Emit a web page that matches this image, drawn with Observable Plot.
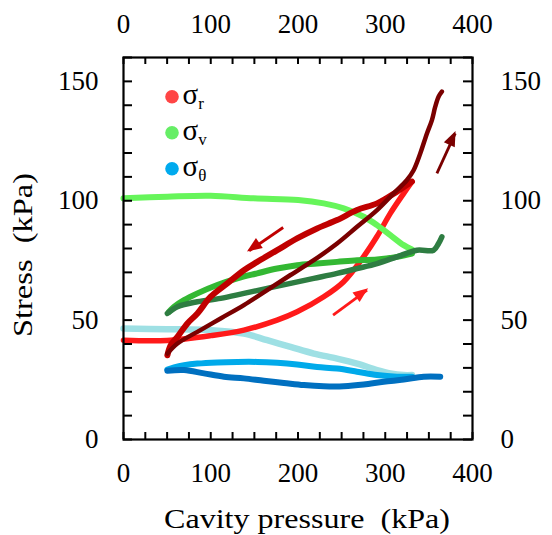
<!DOCTYPE html>
<html>
<head>
<meta charset="utf-8">
<script src="https://cdn.jsdelivr.net/npm/d3@7"></script>
<script src="https://cdn.jsdelivr.net/npm/@observablehq/plot@0.6"></script>
<style>
  html, body { margin: 0; padding: 0; background: #fff; }
  #chart { position: relative; width: 552px; height: 535px; }
</style>
</head>
<body>
<div id="chart"></div>
<script>
// ---- tick values ----
const xLabelTicks = [0, 100, 200, 300, 400];
const xMinorTicks = d3.range(0, 401, 25);
const yLabelTicks = [0, 50, 100, 150];
const yMinorTicks = d3.range(0, 161, 10);

// ---- series: [cavity pressure (kPa), stress (kPa)] ----
const srLoad = [[0,41.6],[50,41.5],[100,43.5],[138,45.8],[176,50],[199,53.5],[229.5,59.8],[252,66],[275,76.5],[290.5,85],[305.8,94.7],[321,103],[330.6,108]];
const srUnload = [[330.6,108],[313.4,103.8],[290.6,98.9],[267.7,96.1],[244.8,91.9],[221.9,88.4],[199,84.2],[176.2,79.3],[153.3,74.4],[138,70.9],[119,65.4],[99.9,59.8],[84.7,52.8],[73.2,48.6],[61.8,43],[54.1,39.5],[50.3,35.3]];
const srReload = [[50.3,36],[61.8,40.2],[84.7,45.1],[111.3,50.7],[138,56.3],[164.7,62.6],[191.4,68.9],[218.1,75.1],[244.8,82.1],[267.7,89.1],[290.6,96.1],[309.6,103.1],[324.9,108.7],[332.5,112.8],[340.1,119.8],[347.8,128.2],[353.5,133.8],[357.3,139.4],[361.1,143.6],[364.9,145.7]];
const svLoad = [[0,101],[50.3,101.7],[99.9,102.1],[149.5,101],[200.2,100.3],[229.5,98.9],[252.4,96.8],[275.3,93.3],[290.6,89.8],[305.8,85.6],[321.1,81.4],[330.6,79.6]];
const svUnload = [[330.6,77.9],[313.4,76.5],[290.6,75.4],[267.7,75.1],[244.8,74.4],[221.9,73.7],[199,73],[176.2,71.6],[153.3,69.6],[130.4,67.5],[107.5,64.7],[84.7,61.2],[69.4,58.4],[58,55.6],[52.2,53.5]];
const svReload = [[50.3,52.8],[61.8,55.6],[84.7,57.7],[111.3,59.1],[138,61.2],[164.7,63.3],[191.4,65.4],[218.1,67.5],[244.8,69.6],[267.7,71.6],[290.6,73.7],[313.4,76.5],[336.3,79.3],[355.4,79.3],[361.1,82.1],[364.9,84.9]];
const stLoad = [[0,46.5],[50.3,46.2],[99.9,45.8],[138,44.4],[164.7,41.6],[191.4,38.8],[218.1,36],[244.8,33.9],[267.7,31.8],[290.6,29.1],[305.8,27.7],[321.1,27],[330.6,27]];
const stUnload = [[330.6,26.3],[313.4,26.3],[290.6,27],[267.7,28.4],[244.8,29.7],[221.9,30.4],[199,31.4],[176.2,32.1],[153.3,32.5],[130.4,32.5],[107.5,32.3],[84.7,31.8],[69.4,31.1],[58,30.2],[50.3,29.3]];
const stReload = [[50.3,28.8],[69.4,29.1],[92.3,27.7],[115.2,26.3],[138,25.6],[160.9,24.6],[183.8,23.7],[206.7,22.8],[229.5,22.3],[252.4,22.3],[275.3,23],[298.2,24.2],[321.1,25.1],[344,26.3],[363,26.3]];

// ---- direction arrows: [x1, y1, x2, y2] in data units ----
const arrowUnload = [183, 88.8, 144, 79];
const arrowLoad = [240.2, 52.1, 279.1, 62.6];
const arrowReload = [359.2, 111.5, 380.2, 128.2];

// ---- legend ----
const legendSymbols = ["σ", "σ", "σ"];
const legendSubs = ["r", "v", "θ"];
const legendColors = ["#ff4545", "#66ee66", "#00aaee"];

// ---- styles ----
const series = [
  {pts: stLoad,   color: "#9ee0e4", w: 6.5},
  {pts: stUnload, color: "#00aaea", w: 6},
  {pts: stReload, color: "#0070c0", w: 6},
  {pts: srLoad,   color: "#ff1a1a", w: 5.5},
  {pts: svLoad,   color: "#66f55a", w: 6},
  {pts: svUnload, color: "#33b833", w: 6},
  {pts: svReload, color: "#2e7d42", w: 5.5},
  {pts: srUnload, color: "#c00000", w: 6},
  {pts: srReload, color: "#7a0000", w: 4.5}
];
const arrows = [
  {a: arrowUnload, color: "#c00000"},
  {a: arrowLoad, color: "#ff1a1a"},
  {a: arrowReload, color: "#7a0000"}
];

const FONT = "Liberation Serif";
const numFont = 27;
const W = 552, H = 535, ML = 123, MR = 80, MT = 57, MB = 96;
const innerW = W - ML - MR, innerH = H - MT - MB;

const marks = [];
for (const s of series) {
  marks.push(Plot.line(s.pts, {x: d => d[0], y: d => d[1], stroke: s.color, strokeWidth: s.w, curve: "catmull-rom", strokeLinecap: "round", strokeLinejoin: "round"}));
}
// arrow shafts
for (const ar of arrows) {
  marks.push(Plot.link([ar.a], {x1: d => d[0], y1: d => d[1], x2: d => d[2], y2: d => d[3], stroke: ar.color, strokeWidth: 2.8}));
}
// axes: labels
marks.push(Plot.axisX(xLabelTicks, {anchor: "bottom", tickSize: 0, tickPadding: 23, label: null, fontSize: numFont}));
marks.push(Plot.axisX(xLabelTicks, {anchor: "top", tickSize: 0, tickPadding: 25, label: null, fontSize: numFont}));
marks.push(Plot.axisY(yLabelTicks, {anchor: "left", tickSize: 0, tickPadding: 25, label: null, fontSize: numFont}));
marks.push(Plot.axisY(yLabelTicks, {anchor: "right", tickSize: 0, tickPadding: 28, label: null, fontSize: numFont}));
// inward ticks on all four sides
marks.push(Plot.tickX(xMinorTicks, {x: d => d, insetTop: innerH - 7, stroke: "#000", strokeWidth: 2}));
marks.push(Plot.tickX(xMinorTicks, {x: d => d, insetBottom: innerH - 7, stroke: "#000", strokeWidth: 2}));
marks.push(Plot.tickY(yMinorTicks, {y: d => d, insetRight: innerW - 9, stroke: "#000", strokeWidth: 2}));
marks.push(Plot.tickY(yMinorTicks, {y: d => d, insetLeft: innerW - 9, stroke: "#000", strokeWidth: 2}));
marks.push(Plot.frame({stroke: "#000", strokeWidth: 2.2}));

const plot = Plot.plot({
  width: W,
  height: H,
  marginLeft: ML,
  marginRight: MR,
  marginTop: MT,
  marginBottom: MB,
  x: {domain: [0, 400]},
  y: {domain: [0, 160]},
  style: {fontFamily: FONT, color: "#000", background: "#fff", overflow: "visible"},
  marks
});
document.getElementById("chart").appendChild(plot);

const root = d3.select(plot);
// arrowheads (filled), positioned through Plot's own scales
const sx = plot.scale("x"), sy = plot.scale("y");
const headG = root.append("g");
for (const ar of arrows) {
  const [a1, b1, a2, b2] = ar.a;
  const px1 = sx.apply(a1), py1 = sy.apply(b1), px2 = sx.apply(a2), py2 = sy.apply(b2);
  const ang = Math.atan2(py2 - py1, px2 - px1);
  const L = 13, Hw = 6;
  const bx = px2 - L * Math.cos(ang), by = py2 - L * Math.sin(ang);
  const nx = -Math.sin(ang), ny = Math.cos(ang);
  const tipX = px2 + 2 * Math.cos(ang), tipY = py2 + 2 * Math.sin(ang);
  headG.append("polygon")
    .attr("points", `${tipX},${tipY} ${bx + Hw * nx},${by + Hw * ny} ${bx - Hw * nx},${by - Hw * ny}`)
    .attr("fill", ar.color);
}

// axis titles
root.append("text")
  .attr("x", 307).attr("y", 528)
  .attr("text-anchor", "middle")
  .attr("font-family", FONT).attr("font-size", 28).attr("fill", "#000")
  .attr("textLength", 286).attr("lengthAdjust", "spacingAndGlyphs")
  .attr("xml:space", "preserve")
  .text("Cavity pressure  (kPa)");
root.append("text")
  .attr("transform", "translate(32,255) rotate(-90)")
  .attr("text-anchor", "middle")
  .attr("font-family", FONT).attr("font-size", 28).attr("fill", "#000")
  .attr("textLength", 164).attr("lengthAdjust", "spacingAndGlyphs")
  .attr("xml:space", "preserve")
  .text("Stress  (kPa)");

// legend
const lg = root.append("g");
legendSymbols.forEach((sym, i) => {
  const cy = 96.7 + i * 36;
  lg.append("circle").attr("cx", 172).attr("cy", cy).attr("r", 6.8).attr("fill", legendColors[i]);
  const t = lg.append("text").attr("x", 182.5).attr("y", cy + 7)
    .attr("text-anchor", "start")
    .attr("font-family", FONT).attr("font-size", 29).attr("fill", "#000");
  t.append("tspan").text(sym);
  t.append("tspan").attr("font-size", 17).attr("dy", 5).text(legendSubs[i]);
});
</script>
</body>
</html>
